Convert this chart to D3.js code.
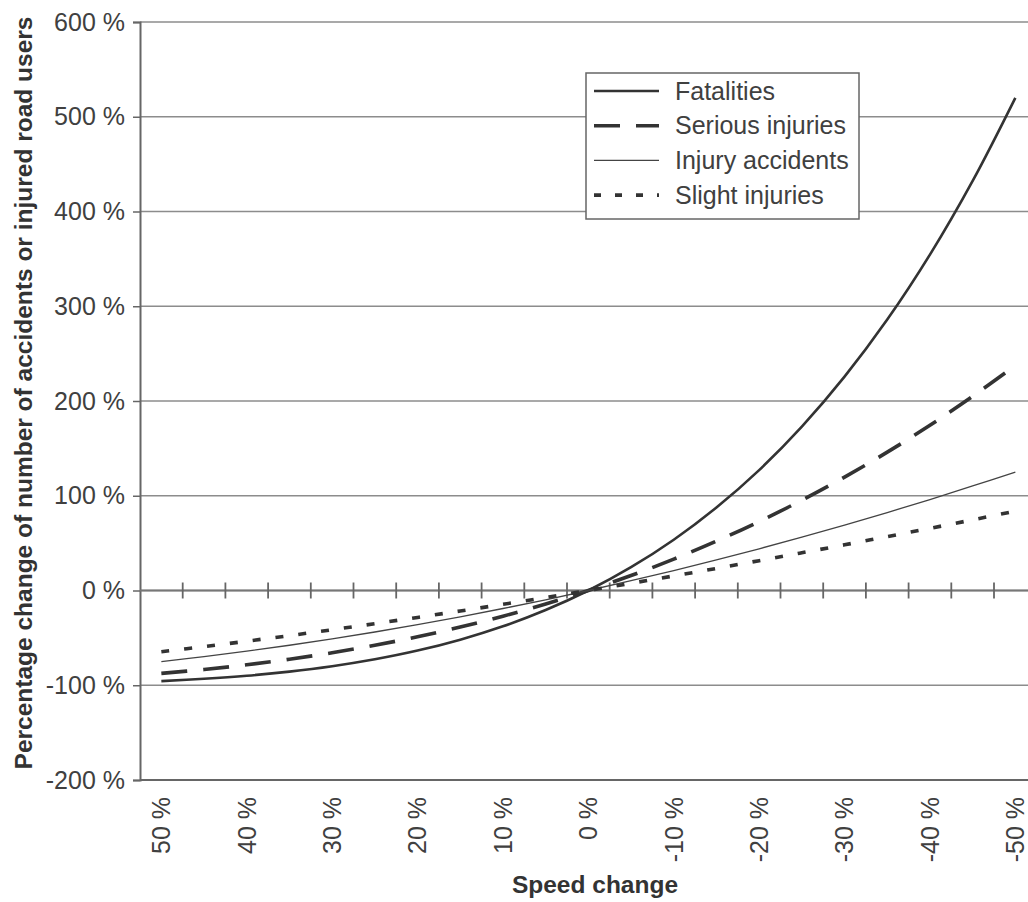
<!DOCTYPE html>
<html>
<head>
<meta charset="utf-8">
<script src="https://cdn.jsdelivr.net/npm/d3@7"></script>
<style>
  body { margin: 0; background: #fff; }
  text { font-family: "Liberation Sans", Arial, sans-serif; }
</style>
</head>
<body>
<div id="chart"></div>
<script>
// Data
const categories = [
  "50 %", "45 %", "40 %", "35 %", "30 %", "25 %", "20 %", "15 %", "10 %", "5 %", "0 %",
  "-5 %", "-10 %", "-15 %", "-20 %", "-25 %", "-30 %", "-35 %", "-40 %", "-45 %", "-50 %"
];
const fatalities = [-95.6, -93.2, -90.0, -85.6, -79.9, -72.6, -63.4, -51.9, -37.8, -20.6, 0,
  24.6, 53.6, 87.6, 127.1, 173.0, 225.7, 285.9, 354.5, 432.3, 520.0];
const seriousInjuries = [-87.5, -83.4, -78.4, -72.5, -65.7, -57.8, -48.8, -38.6, -27.1, -14.3, 0,
  15.8, 33.1, 52.1, 72.8, 95.3, 119.7, 146.0, 174.4, 204.9, 237.5];
const injuryAccidents = [-75.0, -69.8, -64.0, -57.8, -51.0, -43.8, -36.0, -27.8, -19.0, -9.8, 0,
  10.3, 21.0, 32.3, 44.0, 56.3, 69.0, 82.3, 96.0, 110.3, 125.0];
const slightInjuries = [-64.6, -59.2, -53.5, -47.6, -41.4, -35.0, -28.4, -21.6, -14.6, -7.4, 0,
  7.6, 15.4, 23.3, 31.5, 39.8, 48.2, 56.9, 65.6, 74.6, 83.7];
const yTicks = [-200, -100, 0, 100, 200, 300, 400, 500, 600];
const xLabels = ["50 %", "40 %", "30 %", "20 %", "10 %", "0 %", "-10 %", "-20 %", "-30 %", "-40 %", "-50 %"];

const series = [
  { name: "Fatalities", values: fatalities, width: 2.6, dash: null, color: "#333" },
  { name: "Serious injuries", values: seriousInjuries, width: 3.6, dash: "26,16", color: "#333" },
  { name: "Injury accidents", values: injuryAccidents, width: 1.3, dash: null, color: "#444" },
  { name: "Slight injuries", values: slightInjuries, width: 3.6, dash: "8,15", color: "#333" }
];

// Dimensions
const dimensions = {
  width: 1028,
  height: 902,
  left: 140,
  top: 22,
  bottom: 780,
  step: 42.7
};

const svg = d3.select("#chart")
  .append("svg")
  .attr("width", dimensions.width)
  .attr("height", dimensions.height);

// Scales
const xScale = d3.scaleBand()
  .domain(categories)
  .range([dimensions.left, dimensions.left + dimensions.step * categories.length]);

const yScale = d3.scaleLinear()
  .domain([-200, 600])
  .range([dimensions.bottom, dimensions.top]);

const xCenter = (c) => xScale(c) + xScale.bandwidth() / 2;

// Gridlines
svg.append("g")
  .selectAll("line")
  .data(yTicks)
  .join("line")
  .attr("x1", dimensions.left)
  .attr("x2", dimensions.width)
  .attr("y1", (d) => yScale(d))
  .attr("y2", (d) => yScale(d))
  .attr("stroke", (d) => (d === -200 ? "#666" : "#8c8c8c"))
  .attr("stroke-width", (d) => (d === -200 ? 2 : 1.5));

// Y axis
const yAxis = d3.axisLeft(yScale)
  .tickValues(yTicks)
  .tickSize(7)
  .tickPadding(8)
  .tickFormat((d) => d + " %");

const yAxisG = svg.append("g")
  .attr("transform", `translate(${dimensions.left},0)`)
  .call(yAxis);
yAxisG.select(".domain").attr("stroke", "#666").attr("stroke-width", 2);
yAxisG.selectAll(".tick line").attr("stroke", "#666").attr("stroke-width", 1.5);
yAxisG.selectAll("text")
  .attr("fill", "#404040")
  .style("font-size", "25px")
  .style("font-family", "Liberation Sans, Arial, sans-serif");

// X axis line at 0 with cross ticks on category boundaries
const zeroY = yScale(0);
svg.append("line")
  .attr("x1", dimensions.left)
  .attr("x2", dimensions.width)
  .attr("y1", zeroY)
  .attr("y2", zeroY)
  .attr("stroke", "#777")
  .attr("stroke-width", 2);

svg.append("g")
  .selectAll("line")
  .data(categories.slice(1))
  .join("line")
  .attr("x1", (d) => xScale(d))
  .attr("x2", (d) => xScale(d))
  .attr("y1", zeroY - 8)
  .attr("y2", zeroY + 8)
  .attr("stroke", "#666")
  .attr("stroke-width", 1.8);

// X labels (low position)
const xAxis = d3.axisBottom(xScale)
  .tickValues(xLabels)
  .tickSize(0);

const xAxisG = svg.append("g")
  .attr("transform", `translate(0,${dimensions.bottom})`)
  .call(xAxis);
xAxisG.select(".domain").remove();
xAxisG.selectAll("text")
  .attr("transform", "rotate(-90)")
  .attr("text-anchor", "end")
  .attr("x", -17)
  .attr("y", 0)
  .attr("dy", "0.35em")
  .attr("fill", "#404040")
  .style("font-size", "25px")
  .style("font-family", "Liberation Sans, Arial, sans-serif");

// Lines
const line = d3.line()
  .x((d, i) => xCenter(categories[i]))
  .y((d) => yScale(d))
  .curve(d3.curveCatmullRom);

svg.append("g")
  .selectAll("path")
  .data(series)
  .join("path")
  .attr("d", (d) => line(d.values))
  .attr("fill", "none")
  .attr("stroke", (d) => d.color)
  .attr("stroke-width", (d) => d.width)
  .attr("stroke-dasharray", (d) => d.dash);

// Legend
const legend = svg.append("g");
legend.append("rect")
  .attr("x", 586)
  .attr("y", 73)
  .attr("width", 273)
  .attr("height", 146)
  .attr("fill", "#fff")
  .attr("stroke", "#666")
  .attr("stroke-width", 1.5);

const rows = legend.selectAll(".row")
  .data(series)
  .join("g")
  .attr("class", "row")
  .attr("transform", (d, i) => `translate(0,${91 + i * 34.7})`);

rows.append("line")
  .attr("x1", 594)
  .attr("x2", 659)
  .attr("stroke", (d) => d.color)
  .attr("stroke-width", (d) => d.width)
  .attr("stroke-dasharray", (d) => (d.dash === "8,15" ? "7,14" : d.dash));

rows.append("text")
  .attr("x", 675)
  .attr("dy", "0.35em")
  .attr("fill", "#404040")
  .style("font-size", "25px")
  .text((d) => d.name);

// Axis titles
svg.append("text")
  .attr("x", 595)
  .attr("y", 893)
  .attr("text-anchor", "middle")
  .attr("fill", "#333")
  .style("font-size", "24.5px")
  .style("font-weight", "bold")
  .text("Speed change");

svg.append("text")
  .attr("transform", "translate(32,393) rotate(-90)")
  .attr("text-anchor", "middle")
  .attr("fill", "#333")
  .style("font-size", "24.5px")
  .style("font-weight", "bold")
  .text("Percentage change of number of accidents or injured road users");
</script>
</body>
</html>
